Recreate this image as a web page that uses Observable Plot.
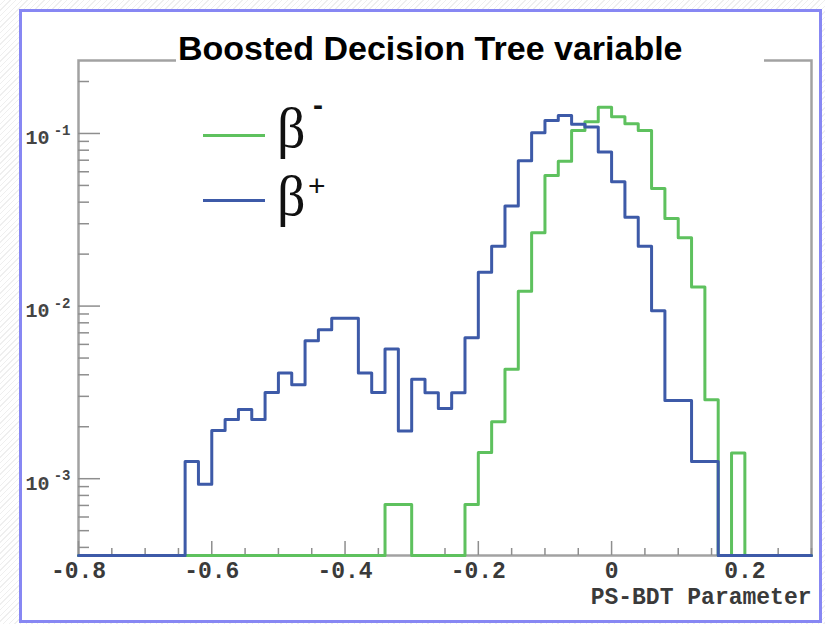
<!DOCTYPE html>
<html>
<head>
<meta charset="utf-8">
<script src="https://cdn.jsdelivr.net/npm/d3@7"></script>
<script src="https://cdn.jsdelivr.net/npm/@observablehq/plot@0.6"></script>
<style>
  html, body { margin: 0; padding: 0; }
  body { width: 825px; height: 624px; overflow: hidden; background: #fff; }
  #wrap { position: relative; width: 825px; height: 624px;
    background: repeating-linear-gradient(135deg, #ffffff 0 3px, #efefef 3px 4px); }
  #panel { position: absolute; left: 19px; top: 9px; width: 803px; height: 614px;
    box-sizing: border-box; border: 3px solid #8787f3; background: #fff; }
  #chart { position: absolute; left: 0; top: 0; }
  #title { position: absolute; left: 176px; top: 30px; width: 588px; height: 34px;
    background: #fff; font: bold 34px "Liberation Sans", Arial, sans-serif; line-height: 36px;
    color: #000; padding-left: 2px; box-sizing: border-box; white-space: nowrap; }
  .legline { position: absolute; height: 3px; }
  .beta { position: absolute; font-family: "Liberation Serif", "DejaVu Serif", serif; font-size: 56px;
    line-height: 56px; color: #111; }
  .sup { position: absolute; font-family: "Liberation Sans", Arial, sans-serif; font-size: 30px;
    line-height: 30px; color: #111; }
</style>
</head>
<body>
<div id="wrap">
  <div id="panel"></div>
  <div id="chart"></div>
  <div id="title">Boosted Decision Tree variable</div>
  <div class="legline" style="left:203px; top:134px; width:62px; background:#5ec15e;"></div>
  <div class="beta" style="left:277px; top:100px;">β</div>
  <div class="sup" style="left:313px; top:90px; font-weight:bold;">-</div>
  <div class="legline" style="left:203px; top:199px; width:62px; background:#3d5aa8;"></div>
  <div class="beta" style="left:277px; top:168px;">β</div>
  <div class="sup" style="left:308px; top:171px;">+</div>
</div>
<script>
// Histogram binning (PS-BDT parameter), 0.02-wide bins starting at -0.8
const binStart = -0.8;
const binWidth = 0.02;

// β− (green) bin contents, normalised
const betaMinus = [
  0, 0, 0, 0, 0, 0, 0, 0, 0, 0,
  0, 0, 0, 0, 0, 0, 0, 0, 0, 0,
  0, 0, 0, 7.1e-4, 7.1e-4, 0, 0, 0, 0, 7.1e-4,
  1.42e-3, 2.14e-3, 4.3e-3, 1.22e-2, 2.66e-2, 5.7e-2, 6.9e-2, 0.104, 0.117, 0.142,
  0.125, 0.114, 0.104, 4.8e-2, 3.22e-2, 2.49e-2, 1.29e-2, 2.87e-3, 0, 1.41e-3,
  0, 0, 0, 0, 0
];

// β+ (blue) bin contents, normalised
const betaPlus = [
  0, 0, 0, 0, 0, 0, 0, 0, 1.26e-3, 9.3e-4,
  1.9e-3, 2.2e-3, 2.52e-3, 2.2e-3, 3.16e-3, 4.1e-3, 3.5e-3, 6.3e-3, 7.3e-3, 8.5e-3,
  8.5e-3, 4.1e-3, 3.16e-3, 5.65e-3, 1.89e-3, 3.77e-3, 3.15e-3, 2.55e-3, 3.15e-3, 6.56e-3,
  1.57e-2, 2.22e-2, 3.8e-2, 6.95e-2, 0.101, 0.119, 0.127, 0.113, 0.109, 7.8e-2,
  5.25e-2, 3.27e-2, 2.22e-2, 9.4e-3, 2.84e-3, 2.84e-3, 1.26e-3, 1.26e-3, 0, 0,
  0, 0, 0, 0, 0
];

const seriesNames = ["β-", "β+"];
const seriesColors = ["#5ec15e", "#3d5aa8"];

const xDomain = [-0.8, 0.3];
const yDomain = [3.59e-4, 0.2647];
const xTicks = [-0.8, -0.6, -0.4, -0.2, 0, 0.2];
const xTickLabels = ["-0.8", "-0.6", "-0.4", "-0.2", "0", "0.2"];
const yDecades = [1e-3, 1e-2, 1e-1];
const yExponents = ["-3", "-2", "-1"];
const xAxisTitle = "PS-BDT Parameter";

// layout
const W = 825, H = 624;
const mL = 78, mR = 14, mT = 60, mB = 69;
const plotW = W - mL - mR, plotH = H - mT - mB;

// minor ticks
const xMinor = d3.range(0, 23).map(k => +(xDomain[0] + k * 0.05).toFixed(2))
  .filter(v => v <= xDomain[1] + 1e-9 && !xTicks.some(t => Math.abs(t - v) < 1e-9));
const yMinor = [];
for (const dec of [1e-4, 1e-3, 1e-2, 1e-1]) {
  for (let k = 2; k <= 9; k++) {
    const v = k * dec;
    if (v >= yDomain[0] && v <= yDomain[1]) yMinor.push(v);
  }
}

function stepPoints(values, name) {
  const pts = values.map((v, i) => ({series: name, x: binStart + i * binWidth, y: Math.max(v, yDomain[0])}));
  pts.push({series: name, x: xDomain[1], y: pts[pts.length - 1].y});
  return pts;
}
const greenPts = stepPoints(betaMinus, seriesNames[0]);
const bluePts = stepPoints(betaPlus, seriesNames[1]);

const mono = "'Liberation Mono', 'DejaVu Sans Mono', 'Courier New', monospace";
const axisGray = "#8e8e8e";

const chart = Plot.plot({
  width: W, height: H,
  marginLeft: mL, marginRight: mR, marginTop: mT, marginBottom: mB,
  style: {background: "transparent", overflow: "visible"},
  x: {domain: xDomain, axis: null},
  y: {type: "log", domain: yDomain, axis: null},
  marks: [
    Plot.frame({stroke: "#a2a2a2", strokeWidth: 2.5}),
    Plot.tickX(xMinor, {x: d => d, insetTop: plotH - 7, stroke: axisGray, strokeWidth: 1.5}),
    Plot.tickX(xTicks, {x: d => d, insetTop: plotH - 14, stroke: axisGray, strokeWidth: 1.5}),
    Plot.tickY(yMinor, {y: d => d, insetRight: plotW - 11, stroke: axisGray, strokeWidth: 1.5}),
    Plot.tickY(yDecades, {y: d => d, insetRight: plotW - 22, stroke: axisGray, strokeWidth: 1.5}),
    Plot.axisX(xTicks, {
      tickSize: 0, tickPadding: 6, label: null,
      tickFormat: d => xTickLabels[xTicks.indexOf(d)],
      fontFamily: mono, fontSize: 23, fontWeight: "bold", fill: "#3a3a3a"
    }),
    Plot.text(yDecades, {
      y: d => d, frameAnchor: "left", text: () => "10", textAnchor: "end",
      dx: -29, dy: 4.5, fontFamily: mono, fontSize: 20, fontWeight: "bold", fill: "#444"
    }),
    Plot.text(yDecades, {
      y: d => d, frameAnchor: "left", text: d => yExponents[yDecades.indexOf(d)], textAnchor: "end",
      dx: -8, dy: -3, fontFamily: mono, fontSize: 14, fontWeight: "bold", fill: "#444"
    }),
    Plot.text([xAxisTitle], {
      frameAnchor: "bottom-right", text: d => d, textAnchor: "end",
      dy: 48, fontFamily: mono, fontSize: 23, fontWeight: "bold", fill: "#3a3a3a"
    }),
    Plot.line(greenPts, {x: "x", y: "y", curve: "step-after", stroke: seriesColors[0], strokeWidth: 3}),
    Plot.line(bluePts, {x: "x", y: "y", curve: "step-after", stroke: seriesColors[1], strokeWidth: 3})
  ]
});
document.getElementById("chart").appendChild(chart);
</script>
</body>
</html>
